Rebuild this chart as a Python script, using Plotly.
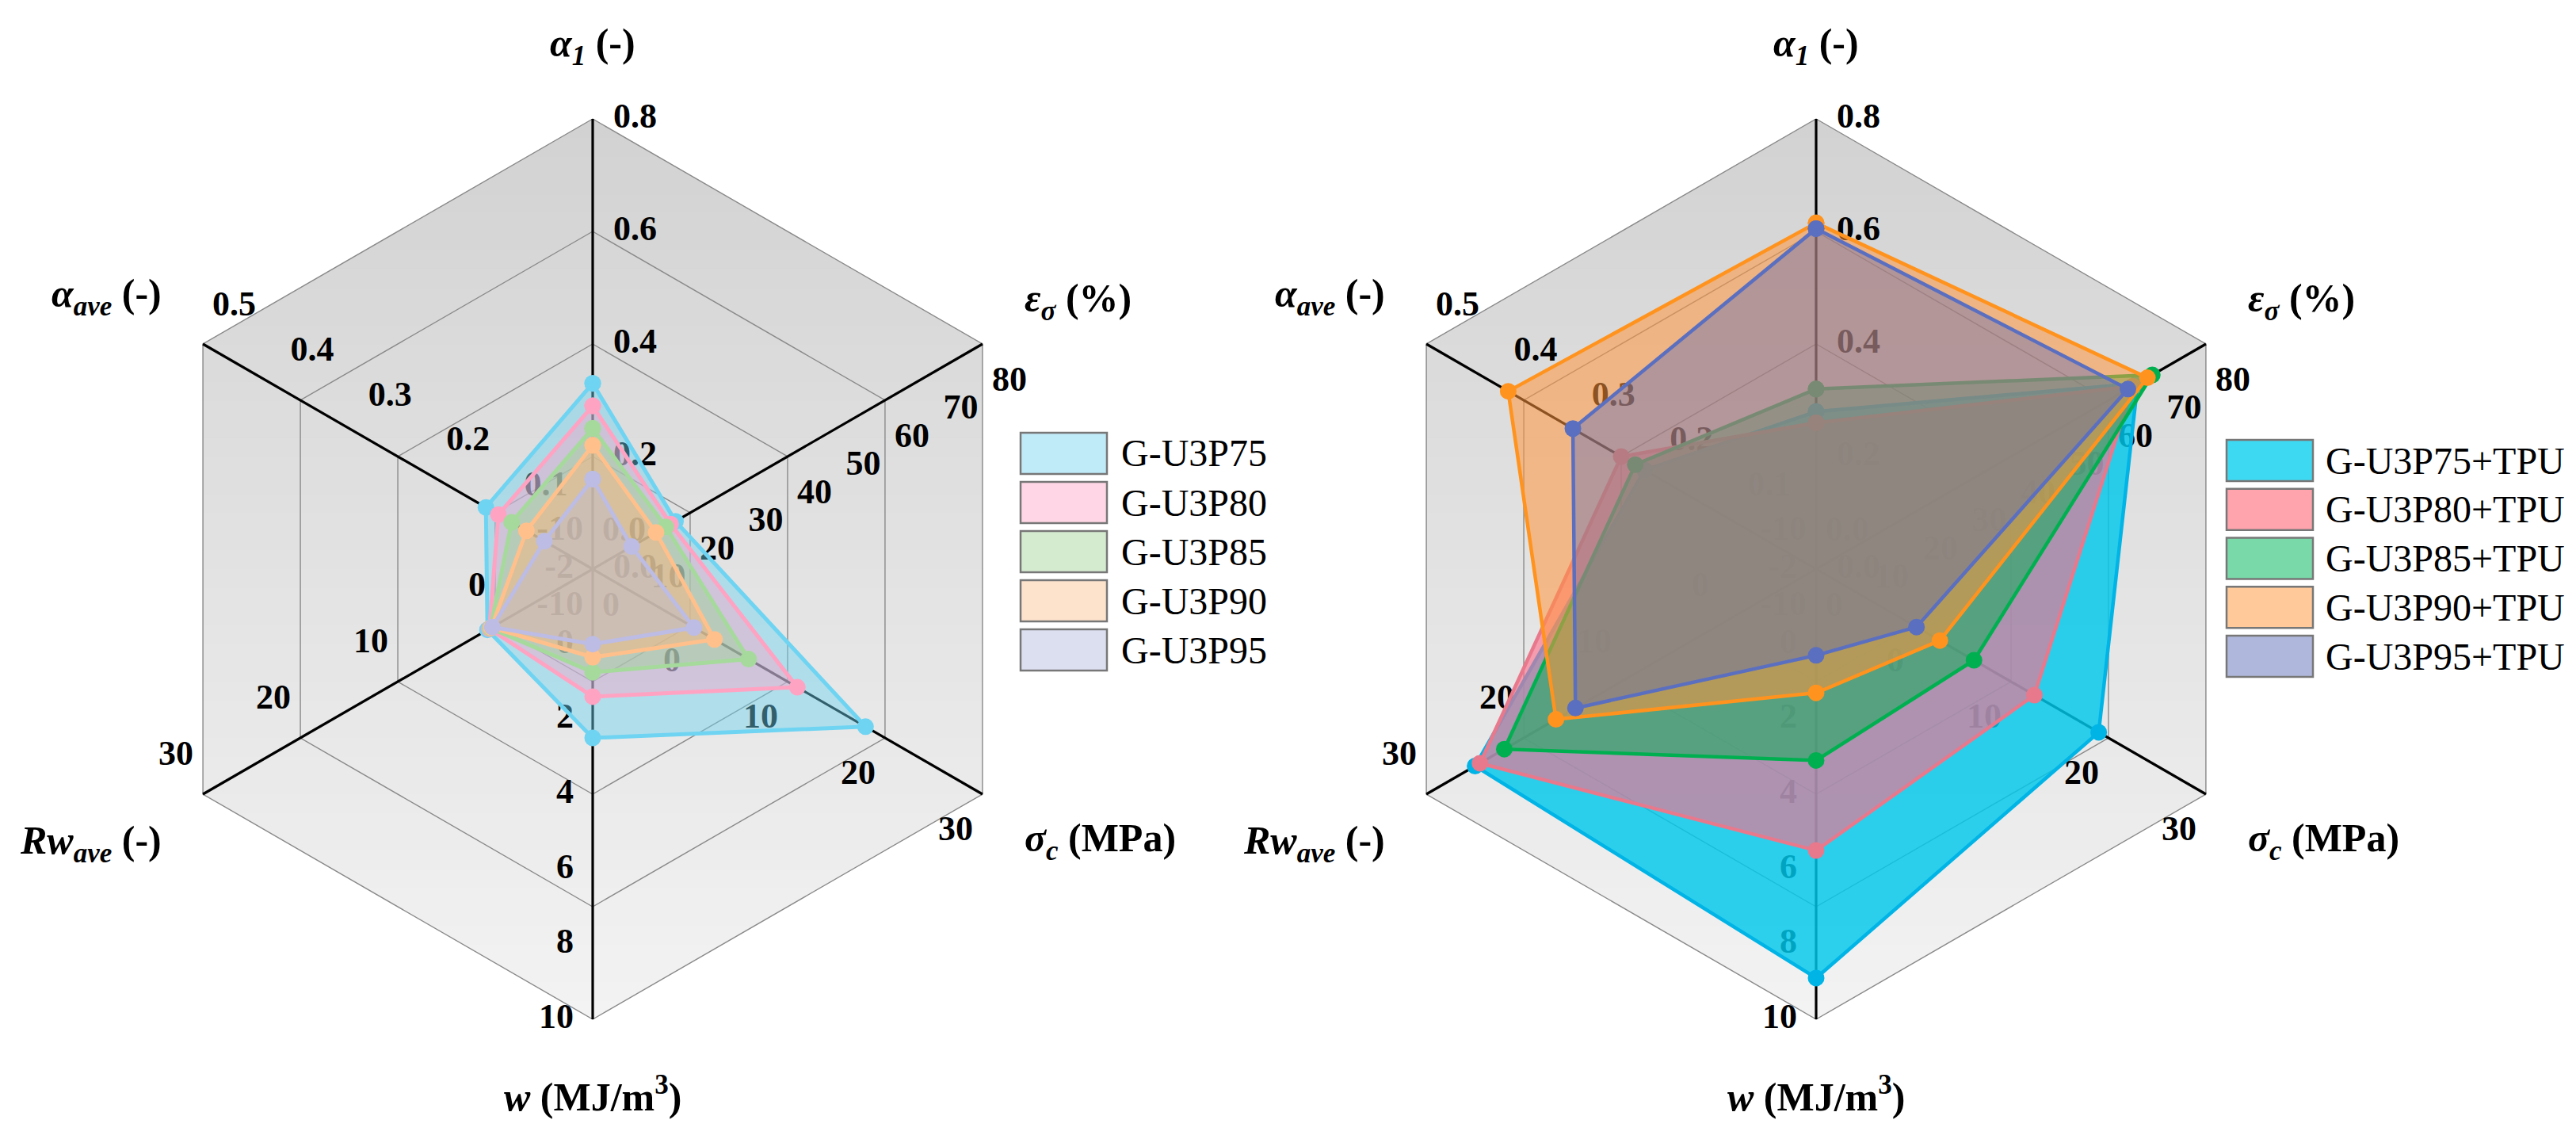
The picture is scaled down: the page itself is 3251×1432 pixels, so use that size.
import math
import plotly.graph_objects as go

# ---------------- data ----------------
AXIS_TITLES = [
    "<b><i>α</i><sub><i>1</i></sub> (-)</b>",
    "<b><i>ε</i><sub><i>σ</i></sub> (%)</b>",
    "<b><i>σ</i><sub><i>c</i></sub> (MPa)</b>",
    "<b><i>w</i> (MJ/m<sup>3</sup>)</b>",
    "<b><i>Rw</i><sub><i>ave</i></sub> (-)</b>",
    "<b><i>α</i><sub><i>ave</i></sub> (-)</b>",
]
AXIS_MIN = [0.0, 0.0, -10.0, -2.0, -10.0, 0.0]
AXIS_MAX = [0.8, 80.0, 30.0, 10.0, 30.0, 0.5]

TICKS_ALPHA1 = [0.0, 0.2, 0.4, 0.6, 0.8]
TICKS_EPS = [0, 10, 20, 30, 40, 50, 60, 70, 80]
TICKS_SIGMA = [-10, 0, 10, 20, 30]
TICKS_W = [-2, 0, 2, 4, 6, 8, 10]
TICKS_RW = [-10, 0, 10, 20, 30]
TICKS_AAVE = [0.0, 0.1, 0.2, 0.3, 0.4, 0.5]
TICK_DECIMALS = [1, 0, 0, 0, 0, 1]

# order of values: alpha1, eps_sigma, sigma_c, w, Rw_ave, alpha_ave
NAMES_LEFT = ["G-U3P75", "G-U3P80", "G-U3P85", "G-U3P90", "G-U3P95"]
G_U3P75 = [0.33, 17, 18.0, 2.5, 0.8, 0.137]
G_U3P80 = [0.29, 16, 11.0, 1.4, 0.6, 0.121]
G_U3P85 = [0.25, 15, 6.0, 0.75, 0.5, 0.104]
G_U3P90 = [0.22, 13, 2.5, 0.35, 0.4, 0.085]
G_U3P95 = [0.16, 8, 0.4, 0.0, 0.3, 0.062]

NAMES_RIGHT = ["G-U3P75+TPU", "G-U3P80+TPU", "G-U3P85+TPU", "G-U3P90+TPU", "G-U3P95+TPU"]
G_U3P75_TPU = [0.28, 66, 19.0, 8.9, 25.0, 0.22]
G_U3P80_TPU = [0.26, 65, 12.4, 5.5, 24.5, 0.25]
G_U3P85_TPU = [0.32, 69, 6.2, 3.1, 22.0, 0.232]
G_U3P90_TPU = [0.615, 68, 2.7, 1.3, 16.7, 0.395]
G_U3P95_TPU = [0.605, 64, 0.3, 0.3, 14.7, 0.312]

# ---------------- styles ----------------
W, H = 3251, 1432
CY = 710
RPX = 568          # pixel radius of the hexagon vertex (r = 1)
RMAX = 1.12        # radial range, leaves room for labels beyond the hexagon
CX = [740, 2284]

LEFT_LINE = ["#6fd4f2", "#ffa3c3", "#a6da9c", "#ffc08c", "#bcbce4"]
LEFT_FILL = ["rgba(110,210,240,0.45)", "rgba(255,160,195,0.40)", "rgba(150,215,140,0.40)",
             "rgba(255,180,120,0.45)", "rgba(185,185,225,0.35)"]
LEFT_LEG = ["#bfeaf7", "#ffd6e5", "#d5ebd0", "#fde2cc", "#dcdff0"]

RIGHT_LINE = ["#00b4e6", "#e8798c", "#00b050", "#ff931e", "#5b6fc0"]
RIGHT_FILL = ["rgba(0,200,235,0.82)", "rgba(255,110,140,0.62)", "rgba(0,176,80,0.50)",
              "rgba(255,150,60,0.55)", "rgba(90,105,185,0.40)"]
RIGHT_LEG = ["#3dd9f2", "#ffa3ad", "#79d9a8", "#ffc99a", "#afb8dc"]

FONT = "Liberation Serif"
TICK_SIZE = 44
TITLE_SIZE = 50

# label anchor offsets per axis (px right, px down, textposition)
LABEL_OFF = [(26, 0, "middle right"), (12, 48, "middle right"), (-12, 47, "middle left"),
             (-24, 0, "middle left"), (-12, -48, "middle left"), (12, -47, "middle right")]


def frac(k, v):
    return (v - AXIS_MIN[k]) / (AXIS_MAX[k] - AXIS_MIN[k])


def to_polar(x, y):
    r = math.hypot(x, y)
    th = math.degrees(math.atan2(x, y)) % 360
    return r, th


def hw(y):
    ay = abs(y)
    return math.sqrt(3) / 2 if ay <= 0.5 else math.sqrt(3) * (1 - ay)


fig = go.Figure()

series_left = [G_U3P75, G_U3P80, G_U3P85, G_U3P90, G_U3P95]
series_right = [G_U3P75_TPU, G_U3P80_TPU, G_U3P85_TPU, G_U3P90_TPU, G_U3P95_TPU]
TICKS = [TICKS_ALPHA1, TICKS_EPS, TICKS_SIGMA, TICKS_W, TICKS_RW, TICKS_AAVE]

for ci, (sub, series, lcols, fcols) in enumerate([
    ("polar", series_left, LEFT_LINE, LEFT_FILL),
    ("polar2", series_right, RIGHT_LINE, RIGHT_FILL),
]):
    # gradient background (horizontal strips of the hexagon)
    N = 48
    for i in range(N):
        y0 = -1 + 2 * i / N
        y1 = -1 + 2 * (i + 1) / N
        ys = [y0] + [v for v in (-0.5, 0.5) if y0 < v < y1] + [y1]
        pts = [(hw(y), y) for y in ys] + [(-hw(y), y) for y in reversed(ys)]
        pts.append(pts[0])
        rs, ths = zip(*[to_polar(*p) for p in pts])
        t = (y0 + y1) / 2
        g = round(243 - (t + 1) / 2 * 33)
        col = f"rgb({g},{g},{g})"
        fig.add_trace(go.Scatterpolar(r=list(rs), theta=list(ths), mode="lines", fill="toself",
                                      fillcolor=col, line=dict(color=col, width=1),
                                      subplot=sub, hoverinfo="skip", showlegend=False))
    # grid rings
    for rr in [0.25, 0.5, 0.75, 1.0]:
        fig.add_trace(go.Scatterpolar(r=[rr] * 7, theta=[0, 60, 120, 180, 240, 300, 360],
                                      mode="lines", line=dict(color="#8a8a8a", width=1.4),
                                      subplot=sub, hoverinfo="skip", showlegend=False))
    # spokes
    for k in range(6):
        fig.add_trace(go.Scatterpolar(r=[0, 1], theta=[60 * k, 60 * k], mode="lines",
                                      line=dict(color="black", width=3.2),
                                      subplot=sub, hoverinfo="skip", showlegend=False))
    # tick labels (drawn under the data fills)
    for k in range(6):
        dxp, dyp, tpos = LABEL_OFF[k]
        th = math.radians(60 * k)
        ux, uy = math.sin(th), math.cos(th)
        rs, ths, txt = [], [], []
        for tv in TICKS[k]:
            f = frac(k, tv)
            x = f * ux + dxp / RPX
            y = f * uy - dyp / RPX
            r, a = to_polar(x, y)
            rs.append(r)
            ths.append(a)
            txt.append(f"{tv:.{TICK_DECIMALS[k]}f}")
        fig.add_trace(go.Scatterpolar(r=rs, theta=ths, mode="text", text=txt, textposition=tpos,
                                      textfont=dict(family=FONT, size=TICK_SIZE, color="black",
                                                    weight="bold"),
                                      cliponaxis=False, subplot=sub, hoverinfo="skip",
                                      showlegend=False))
    # data
    lw = 5 if ci == 0 else 4.5
    for s, vals in enumerate(series):
        r = [frac(k, v) for k, v in enumerate(vals)]
        r.append(r[0])
        th = [60 * k for k in range(6)] + [0]
        fig.add_trace(go.Scatterpolar(r=r, theta=th, mode="lines+markers", fill="toself",
                                      fillcolor=fcols[s], line=dict(color=lcols[s], width=lw),
                                      marker=dict(color=lcols[s], size=21),
                                      subplot=sub, hoverinfo="skip", showlegend=False))

annotations = []
shapes = []


def px(x):
    return x / W


def py(y):
    return 1 - y / H


TITLE_POS = [(0, 50, "center"), (543, 372, "left"), (543, 1053, "left"),
             (0, 1372, "center"), (-542, 1056, "right"), (-542, 366, "right")]
for cx in CX:
    for k in range(6):
        dx, yy, anc = TITLE_POS[k]
        annotations.append(dict(x=px(cx + dx), y=py(yy), xref="paper", yref="paper",
                                text=AXIS_TITLES[k], showarrow=False, xanchor=anc,
                                yanchor="middle",
                                font=dict(family=FONT, size=TITLE_SIZE, color="black")))

# legends
LEG = [(1280, 1389, 538, 62.0, 1405, NAMES_LEFT, LEFT_LEG),
       (2802, 2911, 547, 61.75, 2925, NAMES_RIGHT, RIGHT_LEG)]
for x0, x1, top, pitch, tx, names, cols in LEG:
    for i, (nm, c) in enumerate(zip(names, cols)):
        yt = top + i * pitch
        shapes.append(dict(type="rect", xref="paper", yref="paper", x0=px(x0), x1=px(x1),
                           y0=py(yt + 52), y1=py(yt), fillcolor=c,
                           line=dict(color="#777777", width=2.5)))
        annotations.append(dict(x=px(tx), y=py(yt + 26), xref="paper", yref="paper", text=nm,
                                showarrow=False, xanchor="left", yanchor="middle",
                                font=dict(family=FONT, size=48, color="black")))


def polar_cfg(cx):
    half = RPX * RMAX
    return dict(
        domain=dict(x=[(cx - half) / W, (cx + half) / W],
                    y=[1 - (CY + half) / H, 1 - (CY - half) / H]),
        bgcolor="rgba(0,0,0,0)",
        angularaxis=dict(rotation=90, direction="clockwise", showgrid=False, showline=False,
                         showticklabels=False, ticks=""),
        radialaxis=dict(range=[0, RMAX], visible=False, showgrid=False),
    )


fig.update_layout(
    width=W, height=H, margin=dict(l=0, r=0, t=0, b=0),
    paper_bgcolor="white", plot_bgcolor="white", showlegend=False,
    polar=polar_cfg(CX[0]), polar2=polar_cfg(CX[1]),
    annotations=annotations, shapes=shapes,
)

fig.write_html("out.html")
